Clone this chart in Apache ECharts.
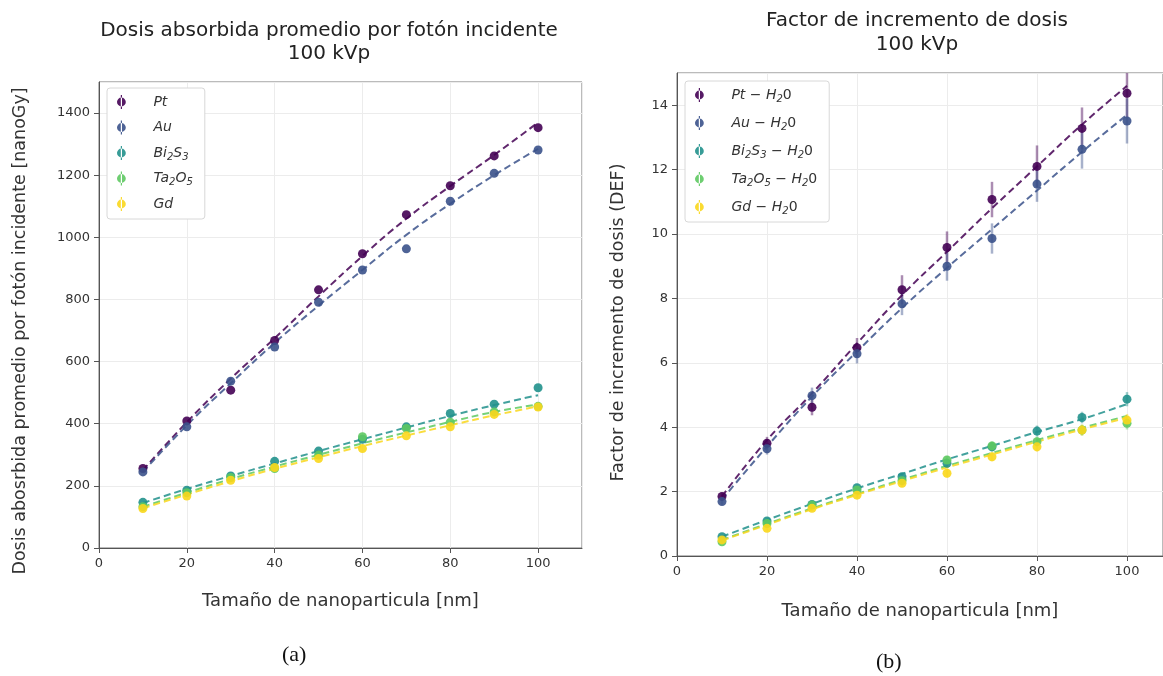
<!DOCTYPE html>
<html>
<head>
<meta charset="utf-8">
<script src="https://cdn.jsdelivr.net/npm/echarts@6/dist/echarts.min.js"></script>
<style>
html,body{margin:0;padding:0;background:#fff;}
#main{width:1163px;height:676px;}
</style>
</head>
<body>
<div id="main"></div>
<script>
// ---------- data ----------
var sizes = [10, 20, 30, 40, 50, 60, 70, 80, 90, 100];
var materials = ['Pt', 'Au', 'Bi2S3', 'Ta2O5', 'Gd'];
var colors = ['#440154', '#3b528b', '#21918c', '#5ec962', '#f9d71c'];

// (a) dose per incident photon [nanoGy]
var dosePt    = [256, 409, 508, 668, 831, 947, 1073, 1166, 1262, 1353];
var doseAu    = [245, 390, 537, 647, 791, 895, 963, 1116, 1206, 1281];
var doseBi2S3 = [147, 186, 232, 279, 312, 350, 390, 433, 463, 516];
var doseTa2O5 = [133, 178, 227, 256, 299, 358, 385, 405, 438, 456];
var doseGd    = [127, 167, 218, 259, 288, 320, 361, 390, 430, 454];
// (a) fitted curves
var fitDosePt    = [250, 405, 545, 675, 810, 940, 1060, 1165, 1265, 1370];
var fitDoseAu    = [245, 395, 530, 660, 780, 895, 1008, 1108, 1200, 1285];
var fitDoseBi2S3 = [145, 190, 232, 272, 312, 350, 388, 425, 460, 492];
var fitDoseTa2O5 = [133, 178, 222, 262, 300, 337, 372, 406, 438, 462];
var fitDoseGd    = [128, 172, 215, 255, 292, 328, 362, 395, 427, 456];

// (b) dose enhancement factor
var defPt    = [1.85, 3.50, 4.62, 6.47, 8.27, 9.58, 11.07, 12.10, 13.28, 14.37];
var defAu    = [1.69, 3.33, 4.98, 6.28, 7.83, 9.00, 9.86, 11.55, 12.63, 13.51];
var defBi2S3 = [0.60, 1.09, 1.60, 2.12, 2.46, 2.88, 3.39, 3.88, 4.30, 4.87];
var defTa2O5 = [0.44, 1.01, 1.58, 2.05, 2.34, 2.98, 3.42, 3.55, 3.91, 4.12];
var defGd    = [0.50, 0.86, 1.48, 1.89, 2.26, 2.57, 3.08, 3.39, 3.91, 4.22];
// (b) errors
var errPt    = [0.12, 0.20, 0.25, 0.30, 0.45, 0.50, 0.55, 0.65, 0.65, 0.75];
var errAu    = [0.10, 0.18, 0.25, 0.30, 0.35, 0.45, 0.47, 0.55, 0.60, 0.70];
var errBi2S3 = [0.05, 0.07, 0.09, 0.10, 0.12, 0.14, 0.15, 0.17, 0.18, 0.22];
var errTa2O5 = [0.05, 0.06, 0.08, 0.09, 0.11, 0.13, 0.14, 0.15, 0.17, 0.19];
var errGd    = [0.05, 0.06, 0.08, 0.09, 0.11, 0.13, 0.14, 0.15, 0.17, 0.19];
// (b) fitted curves
var fitDefPt    = [1.85, 3.60, 5.05, 6.60, 8.10, 9.45, 10.80, 12.10, 13.40, 14.60];
var fitDefAu    = [1.75, 3.40, 4.95, 6.35, 7.70, 8.95, 10.15, 11.35, 12.55, 13.70];
var fitDefBi2S3 = [0.60, 1.12, 1.62, 2.10, 2.55, 3.00, 3.42, 3.85, 4.25, 4.72];
var fitDefTa2O5 = [0.50, 1.00, 1.48, 1.93, 2.37, 2.80, 3.20, 3.60, 3.98, 4.35];
var fitDefGd    = [0.48, 0.97, 1.45, 1.90, 2.33, 2.75, 3.15, 3.55, 3.93, 4.30];

// tick labels / texts
var titleA = 'Dosis absorbida promedio por fotón incidente\n100 kVp';
var titleB = 'Factor de incremento de dosis\n100 kVp';
var xName = 'Tamaño de nanoparticula [nm]';
var yNameA = 'Dosis abosrbida promedio por fotón incidente [nanoGy]';
var yNameB = 'Factor de incremento de dosis (DEF)';
var legendA = ['Pt', 'Au', 'Bi2S3', 'Ta2O5', 'Gd'];
var legendB = ['Pt - H20', 'Au - H20', 'Bi2S3 - H20', 'Ta2O5 - H20', 'Gd - H20'];
var richLabel = {
  'Pt': '{i|Pt}', 'Au': '{i|Au}', 'Bi2S3': '{i|Bi}{s|2}{i|S}{s|3}',
  'Ta2O5': '{i|Ta}{s|2}{i|O}{s|5}', 'Gd': '{i|Gd}',
  'Pt - H20': '{i|Pt − H}{s|2}{n|0}', 'Au - H20': '{i|Au − H}{s|2}{n|0}',
  'Bi2S3 - H20': '{i|Bi}{s|2}{i|S}{s|3}{i| − H}{s|2}{n|0}',
  'Ta2O5 - H20': '{i|Ta}{s|2}{i|O}{s|5}{i| − H}{s|2}{n|0}',
  'Gd - H20': '{i|Gd − H}{s|2}{n|0}'
};

var doseVals = [dosePt, doseAu, doseBi2S3, doseTa2O5, doseGd];
var doseFits = [fitDosePt, fitDoseAu, fitDoseBi2S3, fitDoseTa2O5, fitDoseGd];
var defVals = [defPt, defAu, defBi2S3, defTa2O5, defGd];
var defErrs = [errPt, errAu, errBi2S3, errTa2O5, errGd];
var defFits = [fitDefPt, fitDefAu, fitDefBi2S3, fitDefTa2O5, fitDefGd];

function pairs(vals) { return sizes.map(function (x, i) { return [x, vals[i]]; }); }
function errData(vals, errs) { return sizes.map(function (x, i) { return [x, vals[i] - errs[i], vals[i] + errs[i]]; }); }

var FONT = 'DejaVu Sans';
var richStyles = {
  i: { fontFamily: FONT, fontStyle: 'italic', fontSize: 14, color: '#333', lineHeight: 18, height: 18 },
  n: { fontFamily: FONT, fontSize: 14, color: '#333', lineHeight: 18, height: 18 },
  s: { fontFamily: FONT, fontStyle: 'italic', fontSize: 10, color: '#333', lineHeight: 10, height: 10, verticalAlign: 'bottom' }
};
var legendIcon = 'path://M4.4,0h1.2v14h-1.2z M5,2.6a4.4,4.4 0 1,0 0.001,0z';

var series = [];
// panel (a)
materials.forEach(function (m, k) {
  series.push({
    name: legendA[k] + '_fit', type: 'line', xAxisIndex: 0, yAxisIndex: 0,
    data: pairs(doseFits[k]), smooth: true, symbol: 'none', silent: true,
    lineStyle: { color: colors[k], width: 2, type: [7, 4], opacity: 0.85 }, z: 2
  });
});
materials.forEach(function (m, k) {
  series.push({
    name: legendA[k], type: 'scatter', xAxisIndex: 0, yAxisIndex: 0,
    data: pairs(doseVals[k]), symbol: 'circle', symbolSize: 9,
    itemStyle: { color: colors[k], opacity: 0.9 }, z: 3
  });
});
// panel (b)
materials.forEach(function (m, k) {
  series.push({
    name: legendB[k] + '_fit', type: 'line', xAxisIndex: 1, yAxisIndex: 1,
    data: pairs(defFits[k]), smooth: true, symbol: 'none', silent: true,
    lineStyle: { color: colors[k], width: 2, type: [7, 4], opacity: 0.85 }, z: 2
  });
  series.push({
    name: legendB[k] + '_err', type: 'custom', xAxisIndex: 1, yAxisIndex: 1,
    data: errData(defVals[k], defErrs[k]), silent: true, z: 2, clip: true,
    renderItem: function (params, api) {
      var p1 = api.coord([api.value(0), api.value(1)]);
      var p2 = api.coord([api.value(0), api.value(2)]);
      return {
        type: 'line',
        shape: { x1: p1[0], y1: p1[1], x2: p2[0], y2: p2[1] },
        style: { stroke: colors[k], lineWidth: 2.5, opacity: 0.45 }
      };
    }
  });
});
materials.forEach(function (m, k) {
  series.push({
    name: legendB[k], type: 'scatter', xAxisIndex: 1, yAxisIndex: 1,
    data: pairs(defVals[k]), symbol: 'circle', symbolSize: 9,
    itemStyle: { color: colors[k], opacity: 0.9 }, z: 3
  });
});

function xAxisCfg(gridIndex, max, gap) {
  return {
    type: 'value', gridIndex: gridIndex, min: 0, max: max, interval: 20,
    name: xName, nameLocation: 'middle', nameGap: gap,
    nameTextStyle: { fontFamily: FONT, fontSize: 18, color: '#333' },
    axisLine: { show: true, onZero: false, lineStyle: { color: '#555', width: 1 } },
    axisTick: { show: true, length: 5, lineStyle: { color: '#555' } },
    axisLabel: { fontFamily: FONT, fontSize: 13, color: '#333', margin: 9, showMaxLabel: false,
      formatter: function (v) { return v > 100 ? '' : String(v); } },
    splitLine: { show: true, lineStyle: { color: '#ececec', width: 1 } }
  };
}
function yAxisCfg(gridIndex, max, interval, name, gap, shift) {
  return {
    type: 'value', gridIndex: gridIndex, min: 0, max: max, interval: interval,
    name: name, nameLocation: 'middle', nameGap: gap,
    nameTextStyle: { fontFamily: FONT, fontSize: 17.5, color: '#333', padding: [0, shift, 0, 0] },
    axisLine: { show: true, lineStyle: { color: '#555', width: 1 } },
    axisTick: { show: true, length: 5, lineStyle: { color: '#555' } },
    axisLabel: { fontFamily: FONT, fontSize: 13, color: '#333', margin: 9, showMaxLabel: false,
      formatter: function (v) { return v > max - interval / 2 ? '' : String(v); } },
    splitLine: { show: true, lineStyle: { color: '#ececec', width: 1 } }
  };
}

function legendCfg(data, left, top, gap) {
  return {
    data: data, orient: 'vertical', left: left, top: top, itemGap: gap,
    icon: legendIcon, itemWidth: 10, itemHeight: 14,
    backgroundColor: '#fff', borderColor: '#d8d8d8', borderWidth: 1, borderRadius: 3,
    padding: [5, 12, 6, 10],
    formatter: function (name) { return richLabel[name] || name; },
    textStyle: { fontFamily: FONT, fontSize: 14, color: '#333', lineHeight: 18, height: 18,
      padding: [0, 0, 0, 22], rich: richStyles },
    selectedMode: false
  };
}

var option = {
  backgroundColor: '#ffffff',
  animation: false,
  title: [
    { text: titleA, left: 324, top: 14, textAlign: 'center',
      textStyle: { fontFamily: FONT, fontSize: 20, fontWeight: 'normal', color: '#222', lineHeight: 23 } },
    { text: titleB, left: 912, top: 4, textAlign: 'center',
      textStyle: { fontFamily: FONT, fontSize: 20, fontWeight: 'normal', color: '#222', lineHeight: 24 } }
  ],
  legend: [
    legendCfg(legendA, 107, 88, 7.5),
    legendCfg(legendB, 685, 81, 10)
  ],
  grid: [
    { left: 99, top: 82, width: 483, height: 466, show: true, borderColor: '#777', borderWidth: 1, containLabel: false },
    { left: 677, top: 73, width: 486, height: 483, show: true, borderColor: '#777', borderWidth: 1, containLabel: false }
  ],
  xAxis: [xAxisCfg(0, 110, 44), xAxisCfg(1, 108, 46)],
  yAxis: [yAxisCfg(0, 1500, 200, yNameA, 70, 32), yAxisCfg(1, 15, 2, yNameB, 50, 16)],
  series: series,
  graphic: [
    { type: 'text', left: 282, top: 644, style: { text: '(a)', font: '22px "Liberation Serif"', fill: '#111' } },
    { type: 'text', left: 876, top: 651, style: { text: '(b)', font: '22px "Liberation Serif"', fill: '#111' } }
  ]
};

var chart = echarts.init(document.getElementById('main'), null, { renderer: 'canvas' });
chart.setOption(option);
</script>
</body>
</html>
